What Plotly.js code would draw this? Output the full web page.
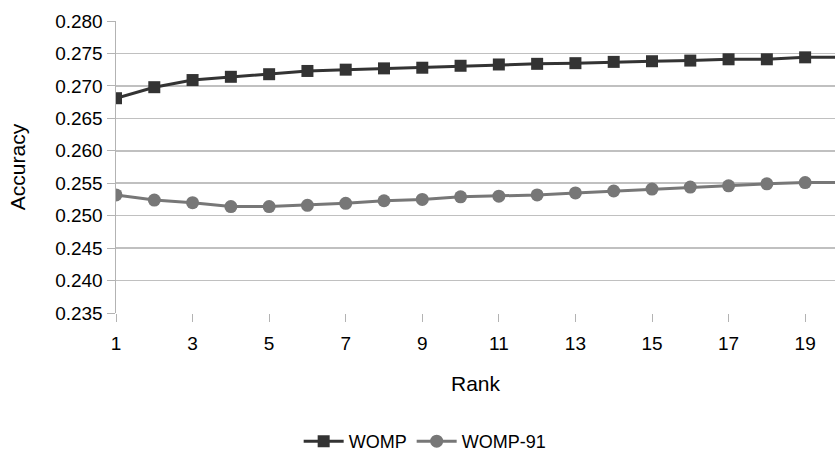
<!DOCTYPE html>
<html>
<head>
<meta charset="utf-8">
<script src="https://cdn.plot.ly/plotly-3.0.1.min.js"></script>
<style>html,body{margin:0;padding:0;background:#fff;}#chart{width:835px;height:451px;}</style>
</head>
<body>
<div id="chart"></div>
<script>
const rank = [1,2,3,4,5,6,7,8,9,10,11,12,13,14,15,16,17,18,19,20];
const womp = [0.2681,0.2698,0.2709,0.2714,0.2718,0.2723,0.2725,0.2727,0.2728,0.2731,0.2733,0.2734,0.2735,0.2737,0.2738,0.2739,0.2741,0.2741,0.2744,0.2744];
const womp91 = [0.2532,0.2524,0.2520,0.2514,0.2514,0.2516,0.2519,0.2523,0.2525,0.2529,0.2530,0.2532,0.2535,0.2538,0.2541,0.2544,0.2546,0.2549,0.2551,0.2551];
const xTicks = [1,3,5,7,9,11,13,15,17,19];
const yTicks = [0.235,0.240,0.245,0.250,0.255,0.260,0.265,0.270,0.275,0.280];

const font = 'Liberation Sans, Arial, sans-serif';
const traces = [
  {x: rank, y: womp, name: 'WOMP', type: 'scatter', mode: 'lines+markers',
   line: {color: '#333333', width: 3}, marker: {symbol: 'square', size: 12, color: '#333333'}, cliponaxis: true},
  {x: rank, y: womp91, name: 'WOMP-91', type: 'scatter', mode: 'lines+markers',
   line: {color: '#777777', width: 3}, marker: {symbol: 'circle', size: 13, color: '#777777'}, cliponaxis: true}
];
const layout = {
  width: 835, height: 451,
  margin: {l: 116, r: 0, t: 21, b: 138, autoexpand: false},
  paper_bgcolor: '#ffffff', plot_bgcolor: '#ffffff',
  font: {family: font, color: '#000000', size: 18},
  showlegend: true,
  legend: {orientation: 'h', x: 0.43, xanchor: 'center', y: -0.44, yanchor: 'middle',
           font: {size: 18, family: font, color: '#000'}, itemwidth: 40},
  xaxis: {
    range: [1, 19.78], tickvals: xTicks, ticktext: xTicks.map(String),
    showgrid: false, zeroline: false, showline: false,
    ticks: 'outside', ticklen: 8, tickcolor: '#b3b3b3', tickwidth: 1,
    ticklabelstandoff: 5,
    tickfont: {size: 19, family: font, color: '#000'},
    title: {text: 'Rank', font: {size: 21, family: font, color: '#000'}, standoff: 23}
  },
  yaxis: {
    range: [0.235, 0.280], tickvals: yTicks, ticktext: yTicks.map(v => v.toFixed(3)),
    showgrid: true, gridcolor: '#c0c0c0', gridwidth: 1.5, zeroline: false,
    showline: true, linecolor: '#b3b3b3', linewidth: 1.5,
    ticks: 'outside', ticklen: 8, tickcolor: '#b3b3b3', tickwidth: 1,
    tickfont: {size: 19, family: font, color: '#000'},
    title: {text: 'Accuracy', font: {size: 21, family: font, color: '#000'}, standoff: 24}
  }
};
Plotly.newPlot('chart', traces, layout, {displayModeBar: false, staticPlot: true});
</script>
</body>
</html>
